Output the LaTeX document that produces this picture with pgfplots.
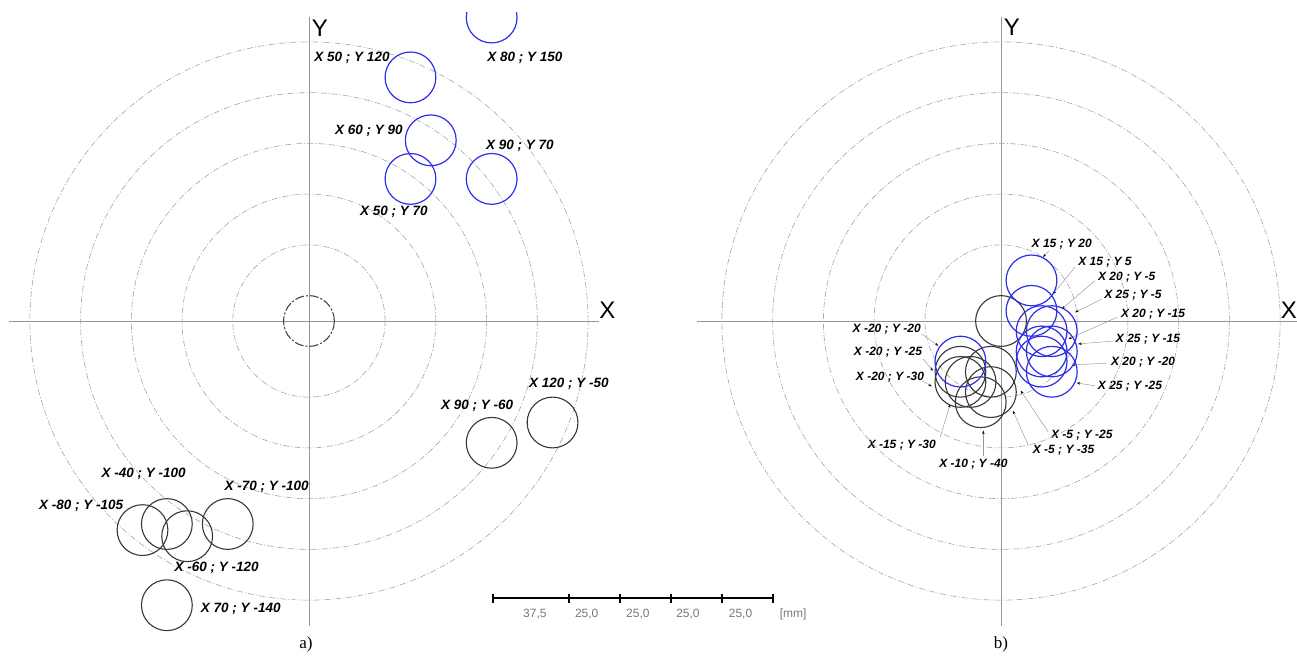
\documentclass[border=0pt]{standalone}
\usepackage{pgfplots}
\pgfplotsset{compat=1.18}
\usepackage{fontspec}
\setmainfont{Liberation Serif}
\setsansfont{Liberation Sans}
\usetikzlibrary{arrows.meta}

\definecolor{cblue}{RGB}{45,45,235}
\definecolor{cblack}{RGB}{55,55,55}
\definecolor{cring}{RGB}{165,165,165}
\definecolor{caxis}{RGB}{150,150,150}
\definecolor{cscale}{RGB}{120,120,120}

\newcommand{\labL}{\sffamily\bfseries\itshape\fontsize{13.5}{14}\selectfont}
\newcommand{\labR}{\sffamily\bfseries\itshape\fontsize{12}{13}\selectfont}
\newcommand{\axl}{\sffamily\fontsize{24}{26}\selectfont}
\newcommand{\capfont}{\rmfamily\fontsize{17}{18}\selectfont}
\newcommand{\scl}{\sffamily\fontsize{12}{13}\selectfont}

\pgfplotsset{
  mmaxis/.style={x=2.03pt, y=2.03pt, hide axis, clip=false,
     ymin=-166.0, ymax=158.1},
  ring/.style={only marks, mark=o, mark size=2.03*#1 pt,
     mark options={draw=cring, line width=0.6pt,
       dash pattern=on 6pt off 2pt on 1pt off 2pt}},
  bcirc/.style={only marks, mark=o, mark size=25.4pt,
     mark options={draw=cblue, line width=1.2pt, solid}},
  kcirc/.style={only marks, mark=o, mark size=25.4pt,
     mark options={draw=cblack, line width=1.1pt, solid}},
  leader/.style={draw=caxis, line width=0.45pt,
     -{Stealth[length=3.5pt,width=2.5pt,color=black]}},
}

\begin{document}
\begin{tikzpicture}
\path[use as bounding box] (0pt,0pt) rectangle (1297pt,658pt);

% ---------------- a) ----------------
\begin{axis}[mmaxis, xmin=-152.2, xmax=250.0, ymax=152.2,
  clip=true, clip mode=individual, clip marker paths=true,
  at={(0pt,0pt)}, anchor=south west]
\addplot[ring=37.5] coordinates {(0,0)};
\addplot[ring=62.5] coordinates {(0,0)};
\addplot[ring=87.5] coordinates {(0,0)};
\addplot[ring=112.5] coordinates {(0,0)};
\addplot[ring=137.5] coordinates {(0,0)};
\addplot[caxis, line width=0.8pt] coordinates {(-148,0) (143,0)};
\addplot[caxis, line width=0.5pt] coordinates {(0,150) (0,-150)};
% origin (dashed)
\addplot[only marks, mark=o, mark size=25.4pt,
  mark options={draw=cblack, line width=1.0pt, dash pattern=on 9pt off 2pt on 2pt off 2pt}]
  coordinates {(0,0)};
% blue circles
\addplot[bcirc] coordinates {(50,70) (60,89) (90,70) (50,120) (90,149.5)};
% black circles
\addplot[kcirc] coordinates {(90,-60) (120,-50) (-82,-103) (-70,-100) (-60,-106) (-40,-100) (-70,-140)};
% labels
\node[font=\labL] at (axis cs:21.2,129.6) {X 50 ; Y 120};
\node[font=\labL] at (axis cs:106.4,129.6) {X 80 ; Y 150};
\node[font=\labL] at (axis cs:29.5,93.7) {X 60 ; Y 90};
\node[font=\labL] at (axis cs:103.9,86.2) {X 90 ; Y 70};
\node[font=\labL] at (axis cs:41.8,53.7) {X 50 ; Y 70};
\node[font=\labL] at (axis cs:128,-31) {X 120 ; Y -50};
\node[font=\labL] at (axis cs:82.8,-41.9) {X 90 ; Y -60};
\node[font=\labL] at (axis cs:-81.4,-75.4) {X -40 ; Y -100};
\node[font=\labL] at (axis cs:-20.8,-81.9) {X -70 ; Y -100};
\node[font=\labL] at (axis cs:-112.2,-91.1) {X -80 ; Y -105};
\node[font=\labL] at (axis cs:-45.5,-121.8) {X -60 ; Y -120};
\node[font=\labL] at (axis cs:-33.6,-142) {X 70 ; Y -140};
\node[font=\axl] at (axis cs:5.4,144.3) {Y};
\node[font=\axl] at (axis cs:147,5.4) {X};
% scale bar
\addplot[black, line width=1.6pt] coordinates {(90.6,-136.5) (228.6,-136.5)};
\addplot[only marks, mark=|, mark size=4.5pt, mark options={black, line width=1.3pt}]
  coordinates {(90.6,-136.5) (128.1,-136.5) (153.2,-136.5) (178.3,-136.5) (203.4,-136.5) (228.6,-136.5)};
\node[font=\scl, text=cscale] at (axis cs:111.3,-144.3) {37,5};
\node[font=\scl, text=cscale] at (axis cs:136.8,-144.3) {25,0};
\node[font=\scl, text=cscale] at (axis cs:162.0,-144.3) {25,0};
\node[font=\scl, text=cscale] at (axis cs:186.7,-144.3) {25,0};
\node[font=\scl, text=cscale] at (axis cs:212.6,-144.3) {25,0};
\node[font=\scl, text=cscale] at (axis cs:238.5,-144.3) {[mm]};
\node[font=\capfont] at (axis cs:-1.5,-159.5) {a)};
\end{axis}

% ---------------- b) ----------------
\begin{axis}[mmaxis, xmin=-173.9, xmax=145.8, at={(648pt,0pt)}, anchor=south west]
\addplot[ring=37.5] coordinates {(0,0)};
\addplot[ring=62.5] coordinates {(0,0)};
\addplot[ring=87.5] coordinates {(0,0)};
\addplot[ring=112.5] coordinates {(0,0)};
\addplot[ring=137.5] coordinates {(0,0)};
\addplot[caxis, line width=0.8pt] coordinates {(-150,0) (148,0)};
\addplot[caxis, line width=0.5pt] coordinates {(0,150) (0,-150)};
% black circles
\addplot[kcirc] coordinates {(0,0) (-20,-25) (-20,-30) (-15,-30) (-10,-40) (-5,-25) (-5,-35)};
% blue circles
\addplot[bcirc] coordinates {(15,20) (15,5) (20,-5) (25,-5) (20,-15) (25,-15) (20,-20) (25,-25) (-20,-20)};
% leader lines
\addplot[leader] coordinates {(23.5,34.5) (20.7,31.5)};
\addplot[leader] coordinates {(36.5,26.6) (25.6,13.3)};
\addplot[leader] coordinates {(46.3,19.9) (29.9,5.9)};
\addplot[leader] coordinates {(49.6,10.8) (36.5,4.3)};
\addplot[leader] coordinates {(57,1.8) (33.2,-8.9)};
\addplot[leader] coordinates {(57,-9.7) (38,-11.3)};
\addplot[leader] coordinates {(52,-20.7) (34.8,-21.7)};
\addplot[leader] coordinates {(46.3,-31.9) (37.3,-30.5)};
\addplot[leader] coordinates {(-39,-6.4) (-30.9,-12.2)};
\addplot[leader] coordinates {(-38.4,-18.7) (-33.5,-24.5)};
\addplot[leader] coordinates {(-39,-29.4) (-34.1,-32.2)};
\addplot[leader] coordinates {(-30,-57.3) (-25.1,-41)};
\addplot[leader] coordinates {(-8.7,-66.3) (-8.7,-54)};
\addplot[leader] coordinates {(23.2,-54.6) (9.7,-34.3)};
\addplot[leader] coordinates {(13.5,-61.4) (5.9,-44.2)};
% labels
\node[font=\labR] at (axis cs:29.9,37.9) {X 15 ; Y 20};
\node[font=\labR] at (axis cs:51.2,29.1) {X 15 ; Y 5};
\node[font=\labR] at (axis cs:61.9,21.7) {X 20 ; Y -5};
\node[font=\labR] at (axis cs:65,12.5) {X 25 ; Y -5};
\node[font=\labR] at (axis cs:74.9,3.4) {X 20 ; Y -15};
\node[font=\labR] at (axis cs:72.4,-8.9) {X 25 ; Y -15};
\node[font=\labR] at (axis cs:70,-20.2) {X 20 ; Y -20};
\node[font=\labR] at (axis cs:63.5,-31.9) {X 25 ; Y -25};
\node[font=\labR] at (axis cs:-56.3,-3.9) {X -20 ; Y -20};
\node[font=\labR] at (axis cs:-55.7,-15.3) {X -20 ; Y -25};
\node[font=\labR] at (axis cs:-54.7,-27.6) {X -20 ; Y -30};
\node[font=\labR] at (axis cs:-48.9,-61.4) {X -15 ; Y -30};
\node[font=\labR] at (axis cs:-13.6,-70.4) {X -10 ; Y -40};
\node[font=\labR] at (axis cs:39.8,-56.5) {X -5 ; Y -25};
\node[font=\labR] at (axis cs:30.8,-63.9) {X -5 ; Y -35};
\node[font=\axl] at (axis cs:5.4,144.8) {Y};
\node[font=\axl, anchor=east, inner sep=0pt] at (axis cs:145.8,5.4) {X};
\node[font=\capfont] at (axis cs:0,-159.5) {b)};
\end{axis}
\end{tikzpicture}
\end{document}
